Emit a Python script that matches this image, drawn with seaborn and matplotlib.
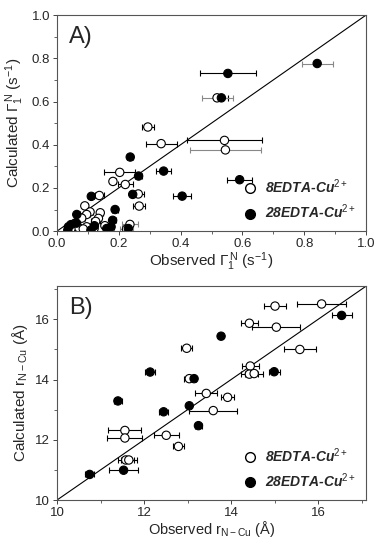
import numpy as np
import pandas as pd
import matplotlib
matplotlib.use("Agg")
import matplotlib.pyplot as plt
import seaborn as sns
from matplotlib.lines import Line2D
from matplotlib.ticker import MultipleLocator, FormatStrFormatter

sns.set_style("ticks")
plt.rcParams["font.family"] = ["Liberation Sans", "DejaVu Sans"]
plt.rcParams["mathtext.fontset"] = "custom"
plt.rcParams["mathtext.rm"] = "Liberation Sans"
plt.rcParams["mathtext.it"] = "Liberation Sans:italic"

# ===================== PANEL A DATA (relaxation rates) =====================
a_open_x = [0.518, 0.294, 0.337, 0.542, 0.545, 0.203, 0.181, 0.221, 0.137, 0.263,
            0.266, 0.090, 0.140, 0.107, 0.096, 0.080, 0.134, 0.125, 0.058, 0.236,
            0.069, 0.096, 0.155, 0.085, 0.120, 0.225, 0.045]
a_open_y = [0.617, 0.482, 0.405, 0.420, 0.376, 0.272, 0.230, 0.216, 0.165, 0.172,
            0.116, 0.117, 0.085, 0.089, 0.077, 0.060, 0.059, 0.045, 0.036, 0.031,
            0.017, 0.020, 0.025, 0.010, 0.012, 0.010, 0.010]
a_open_err = [0.05, 0.02, 0.05, 0.12, 0.115, 0.05, 0.01, 0.025, 0.015, 0.02,
              0.02, 0.01, 0.01, 0.01, 0.01, 0.01, 0.01, 0.015, 0.01, 0.025,
              0.02, 0.01, 0.01, 0.01, 0.01, 0.02, 0.02]
# grey error bars seen in the reference (1 = grey)
a_open_grey = [1, 0, 0, 0, 1, 0, 0, 0, 0, 0,
               0, 0, 0, 0, 0, 0, 0, 0, 0, 1,
               0, 0, 0, 0, 0, 1, 1]

a_fill_x = [0.842, 0.553, 0.532, 0.237, 0.345, 0.591, 0.264, 0.405, 0.245, 0.111,
            0.188, 0.064, 0.180, 0.063, 0.037, 0.121, 0.161, 0.231, 0.035, 0.110,
            0.175, 0.045]
a_fill_y = [0.776, 0.730, 0.617, 0.343, 0.278, 0.238, 0.255, 0.162, 0.170, 0.161,
            0.100, 0.077, 0.050, 0.037, 0.020, 0.025, 0.012, 0.012, 0.005, 0.005,
            0.020, 0.030]
a_fill_err = [0.05, 0.09, 0.02, 0.01, 0.025, 0.04, 0.01, 0.028, 0.01, 0.01,
              0.01, 0.01, 0.01, 0.01, 0.01, 0.01, 0.01, 0.01, 0.01, 0.01,
              0.01, 0.01]
a_fill_grey = [1, 0, 0, 0, 0, 0, 0, 0, 0, 0,
               0, 0, 0, 0, 0, 0, 0, 0, 0, 0,
               0, 0]

# ===================== PANEL B DATA (distances) =====================
b_open_x = [16.08, 15.01, 14.42, 15.04, 15.58, 14.44, 14.42, 14.53, 13.43, 13.92,
            13.59, 12.98, 13.04, 11.56, 11.56, 12.51, 12.79, 11.58, 11.65]
b_open_y = [16.51, 16.44, 15.87, 15.74, 15.00, 14.45, 14.18, 14.20, 13.54, 13.41,
            12.97, 15.04, 14.03, 12.31, 12.06, 12.15, 11.78, 11.33, 11.33]
b_open_err = [0.56, 0.25, 0.20, 0.55, 0.37, 0.20, 0.20, 0.20, 0.25, 0.15,
              0.55, 0.12, 0.12, 0.38, 0.40, 0.29, 0.12, 0.18, 0.18]
b_open_grey = [0] * len(b_open_x)

b_fill_x = [16.54, 13.77, 12.14, 14.99, 13.15, 11.40, 12.45, 13.04, 13.25, 11.53, 10.75]
b_fill_y = [16.13, 15.44, 14.25, 14.26, 14.03, 13.29, 12.93, 13.13, 12.47, 10.99, 10.85]
b_fill_err = [0.23, 0.05, 0.12, 0.13, 0.05, 0.10, 0.10, 0.05, 0.08, 0.33, 0.10]
b_fill_grey = [0] * len(b_fill_x)

labels = ["8EDTA-Cu$^{2+}$", "28EDTA-Cu$^{2+}$"]


def make_df(ox, oy, oe, og, fx, fy, fe, fg):
    d1 = pd.DataFrame({"x": ox, "y": oy, "err": oe, "grey": og, "series": "open"})
    d2 = pd.DataFrame({"x": fx, "y": fy, "err": fe, "grey": fg, "series": "filled"})
    return pd.concat([d1, d2], ignore_index=True)


def draw_panel(ax, df, lim, major, minor, tag):
    ax.plot(lim, lim, color="black", lw=0.8, zorder=1)
    for flag, col in [(0, "black"), (1, "#888888")]:
        sub = df[df["grey"] == flag]
        if len(sub):
            ax.errorbar(sub["x"], sub["y"], xerr=sub["err"], fmt="none", ecolor=col,
                        elinewidth=0.8, capsize=2.5, capthick=0.8, zorder=2)
    sns.scatterplot(data=df, x="x", y="y", hue="series",
                    palette={"open": "white", "filled": "black"},
                    edgecolor="black", linewidth=0.8, s=36, legend=False,
                    ax=ax, zorder=3)
    ax.set_xlim(lim)
    ax.set_ylim(lim)
    ax.xaxis.set_major_locator(MultipleLocator(major))
    ax.yaxis.set_major_locator(MultipleLocator(major))
    ax.xaxis.set_minor_locator(MultipleLocator(minor))
    ax.yaxis.set_minor_locator(MultipleLocator(minor))
    ax.tick_params(which="major", length=3, width=0.6, labelsize=9.5, pad=2)
    ax.tick_params(which="minor", length=2, width=0.5)
    for s in ax.spines.values():
        s.set_color("#555555")
        s.set_linewidth(0.8)
    ax.text(0.04, 0.95, tag, transform=ax.transAxes, fontsize=17,
            va="top", ha="left")
    handles = [
        Line2D([], [], marker="o", ls="none", mfc="white", mec="black", ms=7),
        Line2D([], [], marker="o", ls="none", mfc="black", mec="black", ms=7),
    ]
    ax.legend(handles, labels, loc="lower right", frameon=False,
              handletextpad=0.1, borderaxespad=0.3, labelspacing=0.5,
              prop={"weight": "bold", "style": "italic", "size": 10})


fig = plt.figure(figsize=(3.75, 5.4), dpi=100)
ax1 = fig.add_axes([0.152, 0.572, 0.824, 0.4])
ax2 = fig.add_axes([0.152, 0.074, 0.824, 0.396])

dfa = make_df(a_open_x, a_open_y, a_open_err, a_open_grey,
              a_fill_x, a_fill_y, a_fill_err, a_fill_grey)
draw_panel(ax1, dfa, [0.0, 1.0], 0.2, 0.1, "A)")
ax1.xaxis.set_major_formatter(FormatStrFormatter("%.1f"))
ax1.yaxis.set_major_formatter(FormatStrFormatter("%.1f"))
ax1.set_xlabel(r"Observed $\Gamma_1^{\,\mathregular{N}}$ (s$^{-1}$)", fontsize=11, labelpad=0)
ax1.set_ylabel(r"Calculated $\Gamma_1^{\,\mathregular{N}}$ (s$^{-1}$)", fontsize=11, labelpad=4)

dfb = make_df(b_open_x, b_open_y, b_open_err, b_open_grey,
              b_fill_x, b_fill_y, b_fill_err, b_fill_grey)
draw_panel(ax2, dfb, [10.0, 17.1], 2, 1, "B)")
ax2.set_xlabel(r"Observed r$_{\mathregular{N-Cu}}$ (Å)", fontsize=10.5, labelpad=0)
ax2.set_ylabel(r"Calculated r$_{\mathregular{N-Cu}}$ (Å)", fontsize=11, labelpad=4)

fig.savefig("out.png", dpi=100)
